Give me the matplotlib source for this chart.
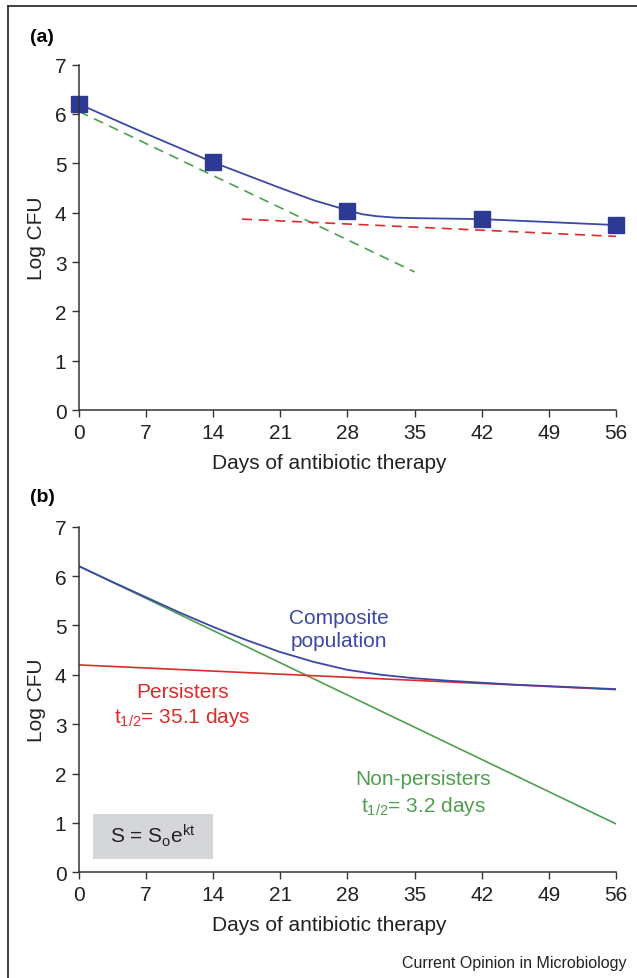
import numpy as np
import matplotlib
matplotlib.use("Agg")
import matplotlib.pyplot as plt
from matplotlib.patches import Rectangle
from matplotlib.lines import Line2D

plt.rcParams['font.family'] = ['Liberation Sans', 'DejaVu Sans']
plt.rcParams['mathtext.fontset'] = 'custom'
plt.rcParams['mathtext.rm'] = 'Liberation Sans'
plt.rcParams['mathtext.it'] = 'Liberation Sans'

# panel (a): measured points and curves
days_pts = [0, 14, 28, 42, 56]
logcfu_pts = [6.2, 5.02, 4.03, 3.87, 3.75]
fit_days = [0, 3.5, 7, 10.5, 14, 17.5, 21, 24.5, 28, 29.5, 31, 33, 35, 38.5, 42, 45.5, 49, 52.5, 56]
fit_logcfu = [6.2, 5.9, 5.6, 5.31, 5.02, 4.76, 4.5, 4.25, 4.05, 3.97, 3.93, 3.9, 3.89, 3.88, 3.87, 3.84, 3.81, 3.78, 3.75]
fast_days = [0, 35]
fast_logcfu = [6.05, 2.8]
slow_days = [17, 56]
slow_logcfu = [3.87, 3.52]

# panel (b): model curves
comp_days = [0, 3.5, 7, 10.5, 14, 17.5, 21, 24.5, 28, 31.5, 35, 38.5, 42, 45.5, 49, 52.5, 56]
comp_logcfu = [6.2, 5.88, 5.57, 5.26, 4.97, 4.7, 4.46, 4.26, 4.1, 4.0, 3.93, 3.88, 3.84, 3.8, 3.77, 3.74, 3.71]
nonpers_days = [0, 56]
nonpers_logcfu = [6.2, 0.98]
pers_days = [0, 56]
pers_logcfu = [4.2, 3.7]

xticks = [0, 7, 14, 21, 28, 35, 42, 49, 56]
yticks = [0, 1, 2, 3, 4, 5, 6, 7]

blue = '#3b48a6'
navy = '#2c3a93'
green = '#4f9f4f'
red = '#dd2b2b'
axcol = '#333333'

fig = plt.figure(figsize=(6.37, 9.79), dpi=100)
ax1 = fig.add_axes([0.124, 0.580, 0.843, 0.353])
ax2 = fig.add_axes([0.124, 0.108, 0.843, 0.353])

for ax in (ax1, ax2):
    ax.set_xlim(0, 56)
    ax.set_ylim(0, 7)
    ax.set_xticks(xticks)
    ax.set_yticks(yticks)
    for s in ('top', 'right'):
        ax.spines[s].set_visible(False)
    for s in ('left', 'bottom'):
        ax.spines[s].set_color(axcol)
        ax.spines[s].set_linewidth(1.1)
    ax.tick_params(direction='out', length=5, width=1, colors=axcol,
                   labelsize=15, pad=4, labelcolor='#222222')
    ax.set_xlabel('Days of antibiotic therapy', fontsize=15, color='#222222')
    ax.xaxis.set_label_coords(0.466, -0.125)
    ax.set_ylabel('Log CFU', fontsize=15, color='#222222', labelpad=6)

# (a)
ax1.plot(fast_days, fast_logcfu, color=green, lw=1.2, ls=(0, (6, 4)))
ax1.plot(slow_days, slow_logcfu, color=red, lw=1.2, ls=(0, (6, 4)))
ax1.plot(fit_days, fit_logcfu, color=blue, lw=1.3)
ax1.plot(days_pts, logcfu_pts, ls='none', marker='s', ms=11, color=navy, clip_on=False)

# (b)
ax2.plot(nonpers_days, nonpers_logcfu, color=green, lw=1.2)
ax2.plot(pers_days, pers_logcfu, color=red, lw=1.2)
ax2.plot(comp_days, comp_logcfu, color=blue, lw=1.3)

ax2.text(27.1, 4.93, 'Composite\npopulation', color=blue, fontsize=15,
         ha='center', va='center', linespacing=1.3)
ax2.text(10.8, 3.67, 'Persisters', color=red, fontsize=15, ha='center', va='center')
ax2.text(10.8, 3.16, r'$\mathrm{t_{1/2}}$= 35.1 days', color=red, fontsize=15,
         ha='center', va='center')
ax2.text(35.9, 1.89, 'Non-persisters', color=green, fontsize=15, ha='center', va='center')
ax2.text(35.9, 1.36, r'$\mathrm{t_{1/2}}$= 3.2 days', color=green, fontsize=15,
         ha='center', va='center')

ax2.add_patch(Rectangle((1.45, 0.26), 12.5, 0.92, facecolor='#d5d6d9',
                        edgecolor='none', zorder=1))
ax2.text(7.7, 0.75, r'S = S$_\mathrm{o}$e$^\mathrm{kt}$', color='#222222',
         fontsize=15, ha='center', va='center', zorder=2)

# panel letters and credit
fig.text(0.047, 0.962, '(a)', fontsize=14, fontweight='bold', va='center')
fig.text(0.047, 0.492, '(b)', fontsize=14, fontweight='bold', va='center')
fig.text(0.983, 0.016, 'Current Opinion in Microbiology', fontsize=11.5,
         color='#222222', ha='right', va='center')

# frame lines at left and top
fig.add_artist(Line2D([0.012, 0.012], [0.0, 0.993], color='#222222', lw=1.2))
fig.add_artist(Line2D([0.012, 1.0], [0.993, 0.993], color='#222222', lw=1.2))

fig.savefig('out.png', dpi=100)
